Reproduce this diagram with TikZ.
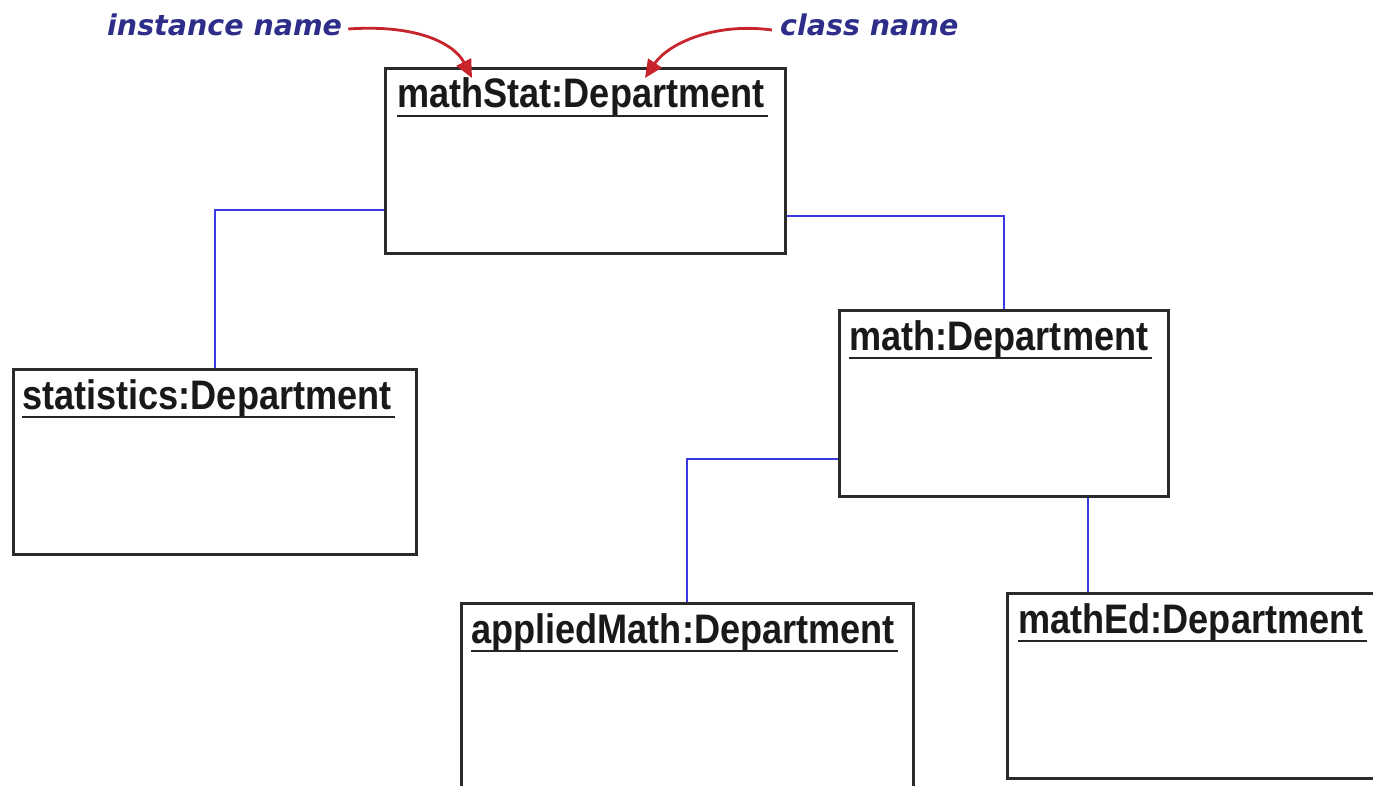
\documentclass[tikz,border=0pt]{standalone}
\usepackage{fontspec}
\setmainfont{Liberation Sans}
\newfontfamily\labfont{DejaVu Sans}
\usetikzlibrary{arrows.meta}
\definecolor{linkblue}{HTML}{3A3AE0}
\definecolor{labblue}{HTML}{2E2E8A}
\definecolor{arrred}{HTML}{C8242C}
\definecolor{boxgray}{HTML}{2A2A2A}
\newcommand{\ttl}[1]{\scalebox{0.99}[1.13]{#1}}
\tikzset{
  objbox/.style={draw=boxgray, line width=2.6pt, fill=white, rectangle, inner sep=0pt, anchor=north west},
  objtitle/.style={inner sep=0pt, anchor=base west, font=\fontsize{36.5}{40}\selectfont\bfseries, text=black!90},
  ul/.style={line width=2.6pt, draw=black!85},
  link/.style={draw=linkblue, line width=2pt},
  lab/.style={inner sep=0pt, font=\labfont\bfseries\itshape\fontsize{28.5}{32}\selectfont, text=labblue},
  callout/.style={draw=arrred, line width=2.8pt, -{Triangle[length=18pt,width=16pt]}},
}
\begin{document}
\begin{tikzpicture}[x=1pt,y=-1pt]
\useasboundingbox (0,0) rectangle (1373,786);
\clip (0,0) rectangle (1373,786);
\fill[white] (0,0) rectangle (1373,786);

% boxes
\node[objbox, minimum width=400pt, minimum height=185pt] (ms) at (384,67) {};
\node[objbox, minimum width=403pt, minimum height=185pt] (st) at (12,368) {};
\node[objbox, minimum width=329pt, minimum height=186pt] (m) at (838,309) {};
\node[objbox, minimum width=452pt, minimum height=200pt] (am) at (460,602) {};
\node[objbox, minimum width=390pt, minimum height=185pt] (me) at (1006,592) {};

% titles
\node[objtitle] (mst) at ([xshift=13pt,yshift=-41pt]ms.north west) {\ttl{mathStat:Department}};
\node[objtitle] (stt) at ([xshift=10pt,yshift=-41pt]st.north west) {\ttl{statistics:Department}};
\node[objtitle] (mt) at ([xshift=11pt,yshift=-41pt]m.north west) {\ttl{math:Department}};
\node[objtitle] (amt) at ([xshift=11pt,yshift=-41pt]am.north west) {\ttl{appliedMath:Department}};
\node[objtitle] (met) at ([xshift=12pt,yshift=-41pt]me.north west) {\ttl{mathEd:Department}};

\foreach \t in {mst,stt,mt,amt,met}{
  \draw[ul] ([yshift=-8pt]\t.base west) -- ([yshift=-8pt,xshift=3pt]\t.base east);
}

% links
\draw[link] ([yshift=-49.5pt]ms.west) -| (st.north);
\draw[link] ([yshift=-55.5pt]ms.east) -| (m.north);
\draw[link] ([yshift=-56pt]m.west) -| (am.north);
\draw[link] ([xshift=84.5pt]m.south) -- ([xshift=84.5pt]m.south |- me.north);

% labels
\node[lab, anchor=west] (inst) at (107,25) {instance name};
\node[lab, anchor=west] (cls) at (780,25) {class name};

\draw[callout] ([xshift=6pt,yshift=-4pt]inst.east) .. controls (420,24) and (455,45) .. (472,78);
\draw[callout] ([xshift=-8pt,yshift=-5pt]cls.west) .. controls (712,22) and (667,45) .. (645,78);
\end{tikzpicture}
\end{document}
